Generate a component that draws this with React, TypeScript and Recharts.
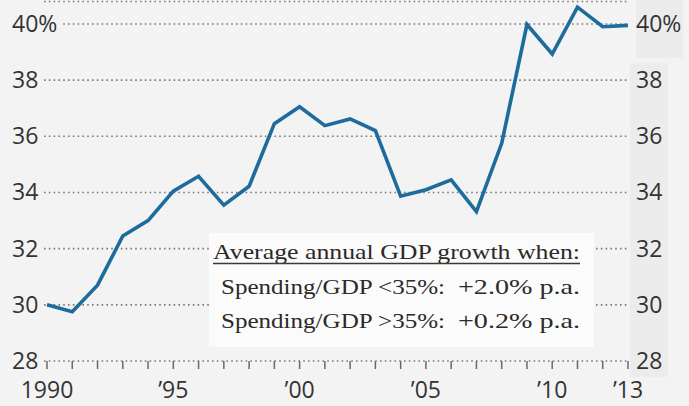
import React from 'react';
import { LineChart, Line, XAxis, YAxis, CartesianGrid } from 'recharts';

const years = [1990, 1991, 1992, 1993, 1994, 1995, 1996, 1997, 1998, 1999, 2000, 2001, 2002, 2003, 2004, 2005, 2006, 2007, 2008, 2009, 2010, 2011, 2012, 2013];
const spending = [30.0, 29.75, 30.7, 32.45, 33.0, 34.05, 34.58, 33.55, 34.22, 36.45, 37.05, 36.38, 36.62, 36.2, 33.87, 34.1, 34.45, 33.32, 35.75, 39.98, 38.93, 40.6, 39.9, 39.95];

const yTicks = [28, 30, 32, 34, 36, 38, 40];
const yTickLabels = ['28', '30', '32', '34', '36', '38', '40%'];
const xLabelYears = [1990, 1995, 2000, 2005, 2010, 2013];
const xLabels = ['1990', '\u201995', '\u201900', '\u201905', '\u201910', '\u201913'];

const noteTitle = 'Average annual GDP growth when:';
const noteRowsLeft = ['Spending/GDP <35%:', 'Spending/GDP >35%:'];
const noteRowsRight = ['+2.0% p.a.', '+0.2% p.a.'];

const data = years.map((y, i) => ({ year: y, value: spending[i] }));

const BG = '#f3f3f3';
const TEXT = '#333333';
const SANS = '"Open Sans", "Noto Sans", sans-serif';
const SERIF = '"Liberation Serif", "DejaVu Serif", serif';

const yLabel = (v: number) => yTickLabels[yTicks.indexOf(v)] ?? String(v);

const LeftTick = (props: any) => {
  const { x, y, payload } = props;
  const label = yLabel(payload.value);
  return (
    <g>
      {label.includes('%') && <rect x={x} y={y - 10} width={18} height={20} fill={BG} />}
      <text x={x - 32} y={y + 8} textAnchor="start" fontSize={23} fill={TEXT} fontFamily={SANS}>
        {label}
      </text>
    </g>
  );
};

const RightTick = (props: any) => {
  const { x, y, payload } = props;
  return (
    <text x={x + 8} y={y + 8} textAnchor="start" fontSize={23} fill={TEXT} fontFamily={SANS}>
      {yLabel(payload.value)}
    </text>
  );
};

const BottomTick = (props: any) => {
  const { x, y, payload } = props;
  const idx = xLabelYears.indexOf(payload.value);
  if (idx < 0) return <g />;
  return (
    <text x={x} y={y + 29} textAnchor="middle" fontSize={23} fill={TEXT} fontFamily={SANS}>
      {xLabels[idx]}
    </text>
  );
};

export default function App() {
  return (
    <div style={{ position: 'absolute', left: 0, top: 0, width: 689, height: 406, background: BG, overflow: 'hidden' }}>
      <svg width={689} height={406} style={{ position: 'absolute', left: 0, top: 0 }}>
        <rect x={636} y={0} width={47} height={58} fill="#ececec" />
        <rect x={630} y={63} width={38} height={314} fill="#ececec" />
      </svg>
      <div style={{ position: 'absolute', left: 0, top: 0 }}>
        <LineChart width={689} height={406} data={data} margin={{ top: 1.5, right: 0, bottom: 0, left: 0 }}>
          <CartesianGrid
            yAxisId="left"
            vertical={false}
            horizontal={true}
            stroke="#7a7a7a"
            strokeWidth={1.6}
            strokeDasharray="1.6 3.2"
          />
          <XAxis
            dataKey="year"
            type="number"
            domain={[1990, 2013]}
            ticks={years}
            interval={0}
            padding={{ left: 3, right: 0 }}
            height={45}
            tickSize={8}
            tickMargin={0}
            axisLine={false}
            tickLine={{ stroke: '#6a6a6a', strokeWidth: 1.5 }}
            tick={<BottomTick />}
          />
          <YAxis
            yAxisId="left"
            orientation="left"
            width={44}
            domain={[28, 40.8]}
            ticks={yTicks}
            interval={0}
            axisLine={false}
            tickLine={false}
            tickSize={0}
            tickMargin={0}
            tick={<LeftTick />}
          />
          <YAxis
            yAxisId="right"
            orientation="right"
            width={61}
            domain={[28, 40.8]}
            ticks={yTicks}
            interval={0}
            axisLine={false}
            tickLine={false}
            tickSize={0}
            tickMargin={0}
            tick={<RightTick />}
          />
          <Line
            yAxisId="right"
            type="linear"
            dataKey="value"
            stroke="none"
            strokeWidth={0}
            dot={false}
            activeDot={false}
            isAnimationActive={false}
          />
          <Line
            yAxisId="left"
            type="linear"
            dataKey="value"
            stroke="#1d6c9c"
            strokeWidth={3.6}
            dot={false}
            activeDot={false}
            strokeLinejoin="miter"
            isAnimationActive={false}
          />
        </LineChart>
      </div>
      <svg width={689} height={406} style={{ position: 'absolute', left: 0, top: 0, pointerEvents: 'none' }}>
        <rect x={209} y={233} width={385} height={114} fill="#fbfbfb" />
        <text x={213} y={259} fontSize={21} fill="#2a2a2a" fontFamily={SERIF} textLength={367} lengthAdjust="spacingAndGlyphs">
          {noteTitle}
        </text>
        <line x1={213} x2={580} y1={263.5} y2={263.5} stroke="#3a3a3a" strokeWidth={1.6} />
        {noteRowsLeft.map((t, i) => (
          <g key={t}>
            <text x={221} y={294 + i * 34} fontSize={21} fill="#2a2a2a" fontFamily={SERIF} textLength={224} lengthAdjust="spacingAndGlyphs">
              {t}
            </text>
            <text x={458} y={294 + i * 34} fontSize={21} fill="#2a2a2a" fontFamily={SERIF} textLength={122} lengthAdjust="spacingAndGlyphs">
              {noteRowsRight[i]}
            </text>
          </g>
        ))}
      </svg>
    </div>
  );
}
